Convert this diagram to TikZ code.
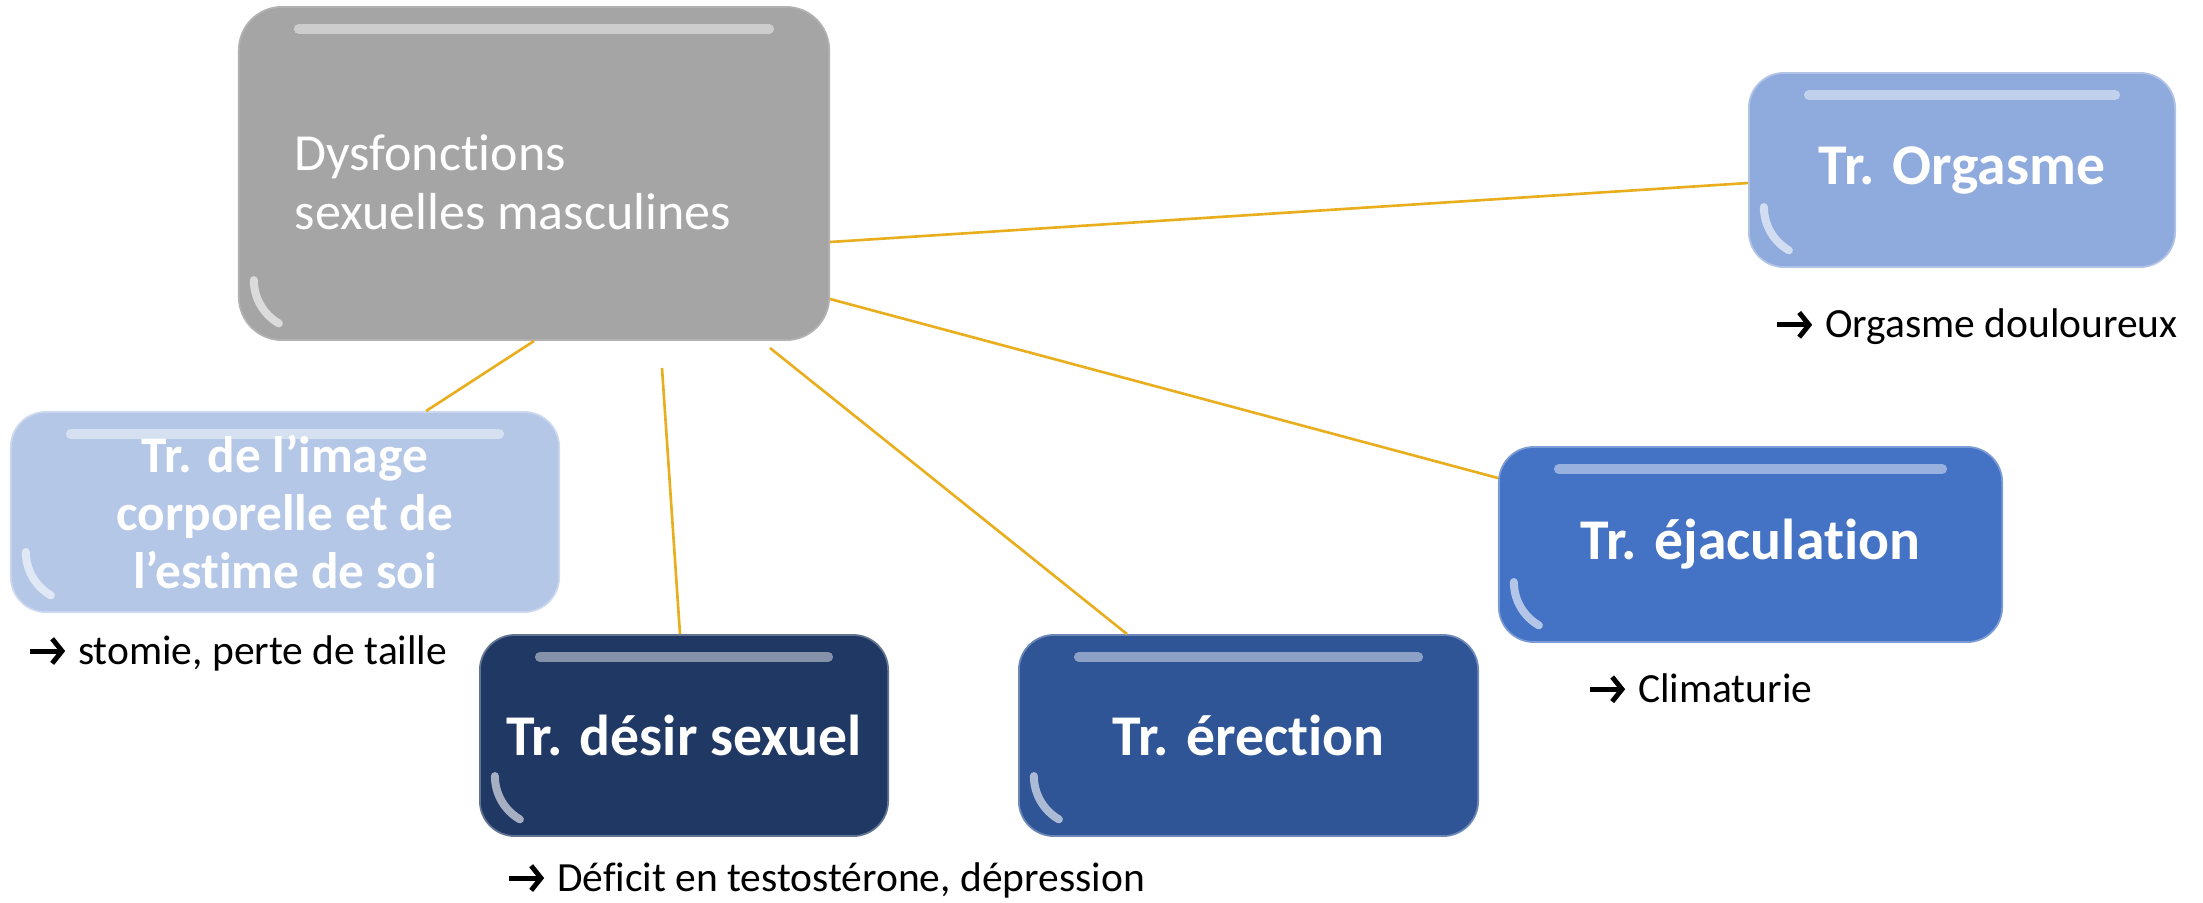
\documentclass[tikz,border=0pt]{standalone}
\usepackage{fontspec}
\setmainfont{Carlito}[Ligatures=NoCommon]
\usetikzlibrary{calc,arrows.meta}
\definecolor{cGray}{HTML}{A5A5A5}
\definecolor{cOrg}{HTML}{8FAADC}
\definecolor{cImg}{HTML}{B4C7E7}
\definecolor{cDes}{HTML}{203864}
\definecolor{cEre}{HTML}{2F5597}
\definecolor{cEja}{HTML}{4472C4}
\definecolor{cLine}{HTML}{E8AE1E}
\newcommand{\arwgap}{\hspace*{13.5pt}}
\tikzset{
  boxfx/.style={path picture={
    \draw[white,opacity=0.45,line width=1mm,line cap=round]
      ([xshift=6mm,yshift=-2.2mm]path picture bounding box.north west) --
      ([xshift=-6mm,yshift=-2.2mm]path picture bounding box.north east);
    \draw[white,opacity=0.6,line width=0.8mm,line cap=round]
      ([xshift=1.5mm,yshift=6mm]path picture bounding box.south west) arc[start angle=180,end angle=240,radius=5mm];
  }},
  subbox/.style={rounded corners=3.5mm, draw=#1!70!white, line width=0.5pt, fill=#1,
    text=white, font=\fontsize{16.4}{16.2}\selectfont\bfseries, align=center, boxfx},
  mainbox/.style={rounded corners=4.3mm, draw=gray!60, line width=0.5pt, fill=cGray, boxfx},
  note/.style={anchor=west, inner sep=0pt, font=\fontsize{11.8}{14}\selectfont, text=black},
  notearrow/.style={line width=1.4pt, -{Straight Barb[length=2.8pt,width=7pt,line width=1.4pt]}},
  link/.style={draw=cLine, line width=0.75pt},
}
\begin{document}
\begin{tikzpicture}[x=0.01cm,y=-0.01cm]
\useasboundingbox (0,0) rectangle (2203,902);
% boxes
\node[mainbox, minimum width=5.9cm, minimum height=3.33cm] (main) at (534,173.5) {};
\node[anchor=west, inner sep=0pt, text=white, align=left, font=\fontsize{14.8}{16.8}\selectfont] (maintext) at (294,182) {Dysfonctions\\sexuelles masculines};
\node[subbox=cOrg, minimum width=4.26cm, minimum height=1.94cm] (org) at (1962,170) {Tr. Orgasme};
\node[subbox=cImg, minimum width=5.48cm, minimum height=2.0cm, font=\fontsize{14.6}{16.5}\selectfont\bfseries] (img) at (285,512) {Tr. de l’image\\corporelle et de\\l’estime de soi};
\node[subbox=cDes, minimum width=4.08cm, minimum height=2.01cm] (des) at (684,735.5) {Tr. désir sexuel};
\node[subbox=cEre, minimum width=4.59cm, minimum height=2.01cm] (ere) at (1248.5,735.5) {Tr. érection};
\node[subbox=cEja, minimum width=5.03cm, minimum height=1.95cm] (eja) at (1750.5,544.5) {Tr. éjaculation};
% notes
\node[note] (norg) at (1777,327) {\arwgap Orgasme douloureux};
\node[note] (nimg) at (30,653) {\arwgap stomie, perte de taille};
\node[note] (ndes) at (509,880) {\arwgap Déficit en testostérone, dépression};
\node[note] (neja) at (1590,688) {\arwgap Climaturie};
\foreach \n in {norg,nimg,ndes,neja}{
  \draw[notearrow] ([yshift=3.7pt]\n.base west) -- ([xshift=10pt,yshift=3.7pt]\n.base west);
}
% connector ends
\coordinate (m1) at (main.east |- 0,242);
\coordinate (m2) at (main.east |- 0,299);
\coordinate (m3) at (770,348);
\coordinate (m4) at (662,368);
\coordinate (m5) at (main.south);
% connectors
\draw[link] (m1) -- (org.west |- 0,183);
\draw[link] (m2) -- (eja.west |- 0,478);
\draw[link] (m3) -- (ere.north -| 1127,0);
\draw[link] (m4) -- (des.north -| 680,0);
\draw[link] (m5) -- (img.north -| 426,0);
\end{tikzpicture}
\end{document}
